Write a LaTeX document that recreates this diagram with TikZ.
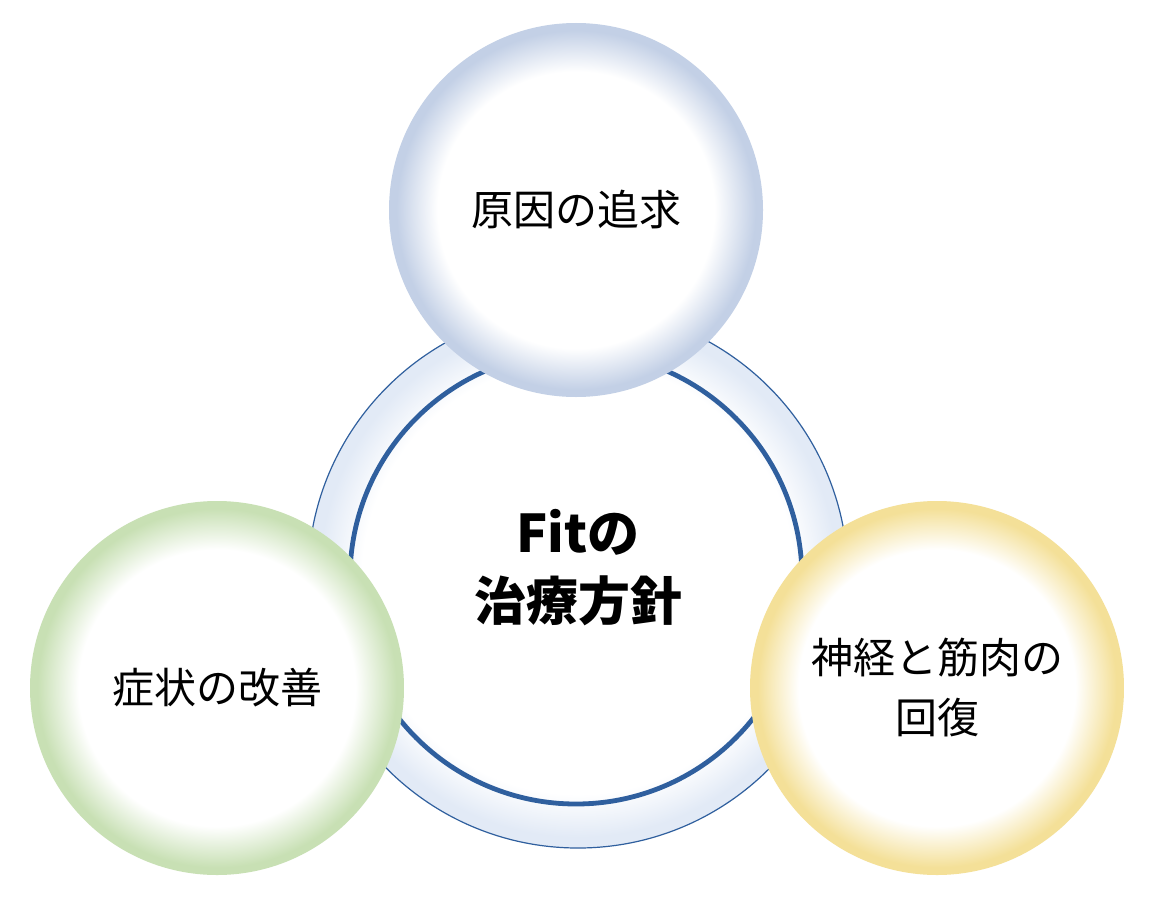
\documentclass[tikz,border=0pt]{standalone}
\usepackage{fontspec}
\newfontfamily\jp{Noto Sans CJK JP}
\definecolor{ringblue}{HTML}{2F5F9E}
\definecolor{ballblue}{HTML}{C3D0E6}
\definecolor{ballgreen}{HTML}{C8E0B4}
\definecolor{ballyellow}{HTML}{F4E098}
\definecolor{halo}{HTML}{E2EAF6}
\pgfdeclareradialshading{bblue}{\pgfpoint{0bp}{0bp}}{color(0bp)=(white);color(18.5bp)=(white);color(24bp)=(ballblue);color(50bp)=(ballblue)}
\pgfdeclareradialshading{bgreen}{\pgfpoint{0bp}{0bp}}{color(0bp)=(white);color(18.5bp)=(white);color(24bp)=(ballgreen);color(50bp)=(ballgreen)}
\pgfdeclareradialshading{byellow}{\pgfpoint{0bp}{0bp}}{color(0bp)=(white);color(18.5bp)=(white);color(24bp)=(ballyellow);color(50bp)=(ballyellow)}
\pgfdeclareradialshading{bhalo}{\pgfpoint{0bp}{0bp}}{color(0bp)=(white);color(20bp)=(white);color(24bp)=(halo);color(50bp)=(halo)}
\tikzset{lbl/.style={font=\jp\fontsize{21pt}{30pt}\selectfont, align=center, text=black},
ball/.style={circle, minimum size=187pt, inner sep=0pt}}
\begin{document}
\begin{tikzpicture}[x=0.5pt,y=-0.5pt]
\useasboundingbox[fill=white] (0,0) rectangle (1154,904);
\path[shading=bhalo] (578,578) circle (270);
\draw[ringblue, line width=0.6pt] (578,578) circle (270);
\draw[ringblue, line width=2.4pt] (576,578) circle (226);
\node[ball, shading=bblue] (top) at (576,210) {};
\node[ball, shading=bgreen] (left) at (217,688) {};
\node[ball, shading=byellow] (right) at (937,688) {};
\node[lbl] at (top) {原因の追求};
\node[lbl] at (left) {症状の改善};
\node[lbl] at (right) {神経と筋肉の\\回復};
\node[font=\jp\bfseries\fontsize{26pt}{34pt}\selectfont, align=center] (center) at (578,568) {Fitの\\治療方針};
\end{tikzpicture}
\end{document}
